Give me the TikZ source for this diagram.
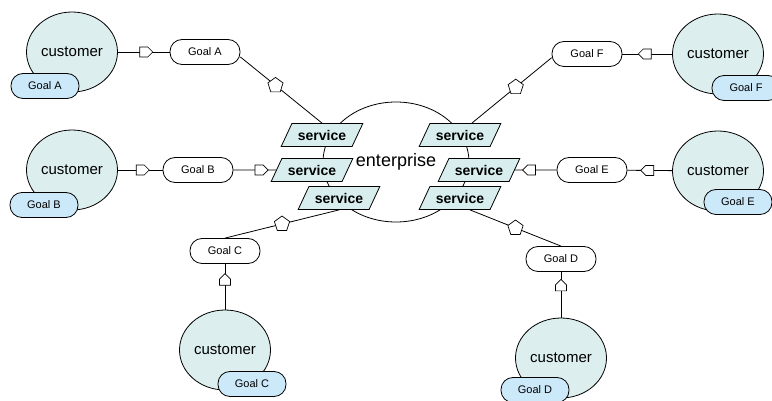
\documentclass[tikz,border=0pt]{standalone}
\usepackage{fontspec}
\setmainfont{Liberation Sans}
\usetikzlibrary{shapes.geometric,shapes.symbols}
\definecolor{custfill}{HTML}{DCEEEE}
\definecolor{pillblue}{HTML}{CCE9FA}
\definecolor{servfill}{HTML}{D8EEEE}
\begin{document}
\begin{tikzpicture}[x=1pt,y=-1pt, line width=0.8pt,
 cust/.style={ellipse, draw, fill=custfill, minimum width=91pt, minimum height=80pt, inner sep=0pt, font=\fontsize{15}{15}\selectfont},
 goal/.style={rectangle, rounded corners=12pt, draw, fill=white, minimum width=70pt, minimum height=25pt, inner sep=0pt, font=\fontsize{11}{11}\selectfont},
 goalb/.style={goal, fill=pillblue, minimum width=68pt},
 serv/.style={trapezium, trapezium left angle=50, trapezium right angle=130, trapezium stretches=true, draw, fill=servfill, minimum width=82pt, minimum height=23pt, inner sep=0pt, font=\fontsize{14}{14}\selectfont\bfseries},
 house/.style={signal, draw, fill=white, minimum width=13pt, minimum height=10pt, inner sep=0pt, line width=0.7pt},
 vhouse/.style={signal, signal to=north, draw, fill=white, minimum width=11pt, minimum height=6pt, inner sep=0pt, line width=0.7pt},
 pent/.style={regular polygon, regular polygon sides=5, draw, fill=white, minimum size=16pt, inner sep=0pt, line width=0.7pt}
]
\useasboundingbox (0,0) rectangle (772,401);
% enterprise
\node[ellipse, draw, minimum width=146pt, minimum height=120pt, inner sep=0pt, font=\fontsize{18}{18}\selectfont] (ent) at (396,162) {enterprise};
% services
\node[serv] (S1) at (322,135) {service};
\node[serv] (S2) at (312,170) {service};
\node[serv] (S3) at (339,198) {service};
\node[serv] (S4) at (460,135) {service};
\node[serv] (S5) at (479,170) {service};
\node[serv] (S6) at (460,198) {service};
% customers
\node[cust] (custA) at (72,52) {customer};
\node[cust] (custB) at (72,170) {customer};
\node[cust] (custC) at (225,350) {customer};
\node[cust] (custD) at (561,358) {customer};
\node[cust] (custE) at (718,171) {customer};
\node[cust] (custF) at (718,54) {customer};
% customer goal tags
\node[goalb] (tA) at (45,86) {Goal A};
\node[goalb] (tB) at (44,205) {Goal B};
\node[goalb] (tC) at (252,384) {Goal C};
\node[goalb] (tD) at (535,390) {Goal D};
\node[goalb] (tE) at (738,202) {Goal E};
\node[goalb] (tF) at (746,88) {Goal F};
% goals
\node[goal] (goalA) at (205,52) {Goal A};
\node[goal] (goalB) at (198,170) {Goal B};
\node[goal] (goalC) at (225,251) {Goal C};
\node[goal] (goalD) at (561,259) {Goal D};
\node[goal] (goalE) at (592,170) {Goal E};
\node[goal] (goalF) at (587,54) {Goal F};
% connectors
\draw (custA) -- node[house, signal to=east]{} (goalA);
\draw (goalA.-8) -- node[pent, pos=.43]{} (S1.north);
\draw (custB) -- node[house, signal to=east]{} (goalB);
\draw (goalB) -- node[house, signal to=east, pos=.6]{} (S2);
\draw (goalC.north) -- node[pent]{} (S3.south);
\draw (custC) -- node[vhouse, pos=.6]{} (goalC);
\draw (S6.-50) -- node[pent]{} (goalD.north);
\draw (custD) -- node[vhouse, pos=.65]{} (goalD);
\draw (custE) -- node[house, signal to=west]{} (goalE);
\draw (goalE) -- node[house, signal to=west, pos=.6]{} (S5);
\draw (custF) -- node[house, signal to=west]{} (goalF);
\draw (goalF.186) -- node[pent, pos=.45]{} (S4.45);
\end{tikzpicture}
\end{document}
